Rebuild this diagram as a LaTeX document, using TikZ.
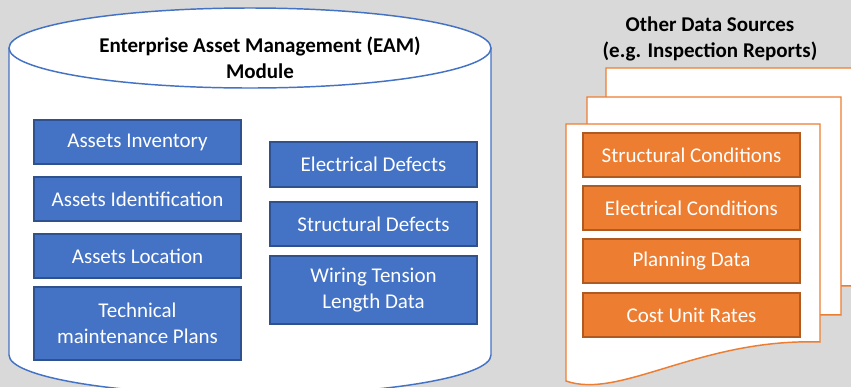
\documentclass[tikz,border=0pt]{standalone}
\usepackage{fontspec}
\setmainfont{Carlito}

\definecolor{eamblue}{HTML}{4472C4}
\definecolor{eamedge}{HTML}{2F528F}
\definecolor{srcorange}{HTML}{ED7D31}
\definecolor{srcedge}{HTML}{AE5A21}
\definecolor{slidegray}{HTML}{D9D9D9}

\begin{document}
\begin{tikzpicture}[
        x=0.75pt, y=-0.75pt,
        every node/.style={font=\fontsize{15.75}{19.5}\selectfont, align=center, inner sep=0pt},
        heading/.style={font=\fontsize{15.75}{19.5}\selectfont\bfseries},
        eambox/.style={draw=eamedge, fill=eamblue, text=white, line width=0.8pt, minimum width=155.25pt, minimum height=33pt},
        srcbox/.style={draw=srcedge, fill=srcorange, text=white, line width=0.8pt, minimum width=162.75pt, minimum height=33pt},
        drum/.style={draw=eamblue, fill=white, line width=1.1pt},
        docpage/.style={draw=srcorange, fill=white, line width=1.1pt}
    ]
 \fill[slidegray] (0,0) rectangle (851,387);
 \useasboundingbox (0,0) rectangle (851,387);
 \clip (0,0) rectangle (851,387);

 % EAM database drum
 \draw[drum] (9,48) -- (9,355) arc[start angle=180, end angle=0, x radius=241, y radius=40] -- (491,48);
 \draw[drum] (250,48) ellipse[x radius=241, y radius=40];
 \node[heading] (eam) at (260,58) {Enterprise Asset Management (EAM)\\Module};

 \node[eambox] (inventory) at (137.5,142) {Assets Inventory};
 \node[eambox] (ident) at (137.5,199) {Assets Identification};
 \node[eambox] (location) at (137.5,256) {Assets Location};
 \node[eambox, minimum height=54.75pt] (plans) at (137.5,323.5) {Technical\\maintenance Plans};

 \node[eambox, minimum height=33.75pt] (elecdef) at (373.5,164.5) {Electrical Defects};
 \node[eambox] (structdef) at (373.5,224) {Structural Defects};
 \node[eambox, minimum height=51pt] (wiring) at (373.5,290) {Wiring Tension\\Length Data};

 % stack of report pages, back to front
 \foreach \dx/\dy in {40/-56, 21/-27, 0/0}
   \draw[docpage, shift={(\dx,\dy)}] (566,124) -- (820,124) -- (820,342)
     .. controls (700,338) and (620,400) .. (566,381) -- cycle;
 \node[heading] (other) at (710,38.5) {Other Data Sources\\(e.g. Inspection Reports)};

 \node[srcbox] (structcond) at (691.5,155) {Structural Conditions};
 \node[srcbox] (eleccond) at (691.5,208) {Electrical Conditions};
 \node[srcbox] (planning) at (691.5,261) {Planning Data};
 \node[srcbox] (rates) at (691.5,315) {Cost Unit Rates};
\end{tikzpicture}
\end{document}
